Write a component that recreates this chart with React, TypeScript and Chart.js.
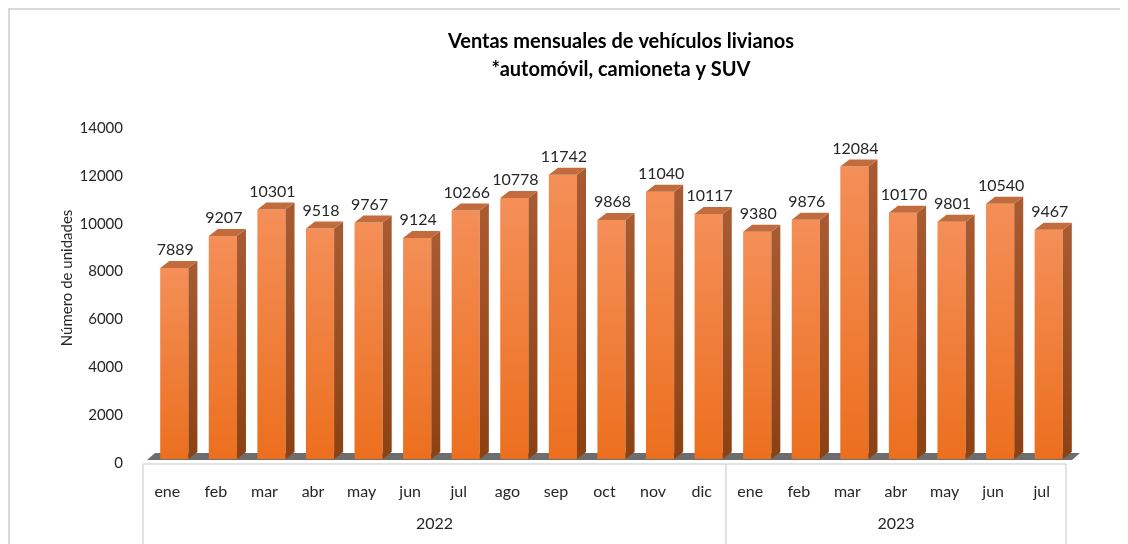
import { useEffect, useRef } from "react";
import { Chart, registerables } from "chart.js";

Chart.register(...registerables);

const TITLE_LINES = ["Ventas mensuales de vehículos livianos", "*automóvil, camioneta y SUV"];
const Y_AXIS_TITLE = "Número de unidades";
const MONTHS = [
  "ene", "feb", "mar", "abr", "may", "jun", "jul", "ago", "sep", "oct", "nov", "dic",
  "ene", "feb", "mar", "abr", "may", "jun", "jul",
];
const YEARS = ["2022", "2023"];
const YEAR_SPANS = [12, 7];
const SALES = [
  7889, 9207, 10301, 9518, 9767, 9124, 10266, 10778, 11742, 9868, 11040, 10117,
  9380, 9876, 12084, 10170, 9801, 10540, 9467,
];
const Y_TICKS = [0, 2000, 4000, 6000, 8000, 10000, 12000, 14000];

const FONT = "Lato";
const TEXT = "#262626";
const FRONT_TOP = "#F48F58";
const FRONT_BOTTOM = "#EC6F1E";
const SIDE_TOP = "#A85A30";
const SIDE_BOTTOM = "#8C4113";
const TOP_FACE = "#C26C3E";
const FLOOR = "#6d6d6d";
const LINE = "#d9d9d9";
const DX = 9;
const DY = 7;
const SHIFT = 7;

const threeD = {
  id: "threeD",
  beforeDatasetsDraw(chart: any) {
    const { ctx, chartArea } = chart;
    const ys = chart.scales.y;
    const y0 = ys.getPixelForValue(0) + 1;
    ctx.save();
    ctx.fillStyle = FLOOR;
    ctx.beginPath();
    ctx.moveTo(chartArea.left + 4, y0);
    ctx.lineTo(chartArea.right + 6, y0);
    ctx.lineTo(chartArea.right + 6 + DX - 1, y0 - DY);
    ctx.lineTo(chartArea.left + 4 + DX - 1, y0 - DY);
    ctx.closePath();
    ctx.fill();
    ctx.restore();
    ctx.save();
    ctx.translate(SHIFT, 0);
  },
  afterDatasetsDraw(chart: any) {
    const { ctx } = chart;
    const meta = chart.getDatasetMeta(0);
    meta.data.forEach((el: any, i: number) => {
      const { x, y, base, width } = el.getProps(["x", "y", "base", "width"], true);
      const l = x - width / 2;
      const r = x + width / 2;
      const g = ctx.createLinearGradient(0, y, 0, base);
      g.addColorStop(0, SIDE_TOP);
      g.addColorStop(1, SIDE_BOTTOM);
      ctx.fillStyle = g;
      ctx.beginPath();
      ctx.moveTo(r, y);
      ctx.lineTo(r + DX, y - DY);
      ctx.lineTo(r + DX, base - DY);
      ctx.lineTo(r, base);
      ctx.closePath();
      ctx.fill();
      ctx.fillStyle = TOP_FACE;
      ctx.beginPath();
      ctx.moveTo(l, y);
      ctx.lineTo(l + DX, y - DY);
      ctx.lineTo(r + DX, y - DY);
      ctx.lineTo(r, y);
      ctx.closePath();
      ctx.fill();
      ctx.fillStyle = TEXT;
      ctx.font = `16px ${FONT}`;
      ctx.textAlign = "center";
      ctx.textBaseline = "middle";
      ctx.fillText(String(SALES[i]), x + 1, y - 18);
    });
    ctx.restore();
  },
  afterDraw(chart: any) {
    const { ctx, chartArea, height } = chart;
    const xs = chart.scales.x;
    const slot = xs.getPixelForValue(1) - xs.getPixelForValue(0);
    const yTop = chartArea.bottom + 1;
    ctx.save();
    ctx.strokeStyle = LINE;
    ctx.lineWidth = 1.5;
    ctx.beginPath();
    ctx.moveTo(chartArea.left, yTop);
    ctx.lineTo(chartArea.right, yTop);
    let idx = 0;
    const bounds = [chartArea.left];
    YEAR_SPANS.forEach((n) => {
      idx += n;
      bounds.push(xs.getPixelForValue(idx - 1) + slot / 2);
    });
    bounds.forEach((bx) => {
      ctx.moveTo(bx, yTop);
      ctx.lineTo(bx, height);
    });
    ctx.stroke();
    ctx.fillStyle = TEXT;
    ctx.font = `16px ${FONT}`;
    ctx.textAlign = "center";
    ctx.textBaseline = "middle";
    YEARS.forEach((yr, k) => {
      ctx.fillText(yr, (bounds[k] + bounds[k + 1]) / 2, 514);
    });
    // y axis title
    ctx.save();
    ctx.font = `15px ${FONT}`;
    ctx.translate(57, 268);
    ctx.rotate(-Math.PI / 2);
    ctx.fillText(Y_AXIS_TITLE, 0, 0);
    ctx.restore();
    // chart title
    ctx.fillStyle = "#000";
    ctx.font = `bold 20px ${FONT}`;
    ctx.fillText(TITLE_LINES[0], 611, 32);
    ctx.fillText(TITLE_LINES[1], 611, 60);
    ctx.restore();
  },
};

export default function App() {
  const ref = useRef<HTMLCanvasElement>(null);
  useEffect(() => {
    if (!ref.current) return;
    const chart = new Chart(ref.current, {
      type: "bar",
      data: {
        labels: MONTHS,
        datasets: [
          {
            data: SALES,
            yAxisID: "y",
            categoryPercentage: 1,
            barPercentage: 0.58,
            backgroundColor: (c: any) => {
              const ch = c.chart;
              if (!ch.chartArea || c.type !== "data") return FRONT_BOTTOM;
              const ys = ch.scales.y;
              const top = ys.getPixelForValue(c.raw);
              const bot = ys.getPixelForValue(0);
              const g = ch.ctx.createLinearGradient(0, top, 0, bot);
              g.addColorStop(0, FRONT_TOP);
              g.addColorStop(1, FRONT_BOTTOM);
              return g;
            },
          },
        ],
      },
      options: {
        responsive: false,
        animation: false,
        layout: { padding: { top: 110, right: 62, left: 0, bottom: 0 } },
        plugins: { legend: { display: false }, tooltip: { enabled: false }, title: { display: false } },
        scales: {
          x: {
            grid: { display: false, drawTicks: false },
            border: { display: false },
            ticks: { font: { family: FONT, size: 16 }, color: TEXT, padding: 19, maxRotation: 0, autoSkip: false },
            afterFit: (s: any) => {
              s.height = 81;
            },
          },
          y: { display: false, min: -165, max: 14000 },
          y2: {
            position: "left",
            min: 0,
            max: 14334,
            afterBuildTicks: (s: any) => {
              s.ticks = Y_TICKS.map((v) => ({ value: v }));
            },
            grid: { display: false, drawTicks: false },
            border: { display: false },
            ticks: {
              font: { family: FONT, size: 15 },
              color: TEXT,
              padding: 20,
              callback: (v: any) => String(v),
            },
            afterFit: (s: any) => {
              s.width = 133;
            },
          },
        },
      },
      plugins: [threeD],
    });
    return () => chart.destroy();
  }, []);
  return (
    <div
      style={{
        width: 1120,
        height: 536,
        boxSizing: "border-box",
        borderTop: "2px solid #d9d9d9",
        borderLeft: "2px solid #d9d9d9",
      }}
    >
      <canvas ref={ref} width={1118} height={534} style={{ display: "block" }} />
    </div>
  );
}
